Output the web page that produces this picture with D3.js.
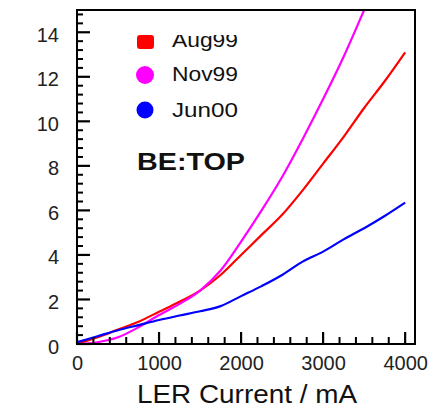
<!DOCTYPE html>
<html>
<head>
<meta charset="utf-8">
<script src="https://cdn.jsdelivr.net/npm/d3@7"></script>
<style>
  body { margin: 0; background: #fff; }
  svg { display: block; font-family: "Liberation Sans", Arial, sans-serif; }
  .axis text { fill: #222; font-size: 20px; }
</style>
</head>
<body>
<svg id="chart" width="430" height="407"></svg>
<script>
// LER current (mA) sample grid
const current = [0, 250, 500, 750, 1000, 1250, 1500, 1750, 2000, 2250, 2500, 2750, 3000, 3250, 3500, 3750, 4000];
const aug99 = [0, 0.3, 0.65, 1.0, 1.45, 1.9, 2.4, 3.1, 4.0, 4.9, 5.8, 6.9, 8.1, 9.3, 10.6, 11.8, 13.1];
const nov99 = [0, 0.08, 0.3, 0.75, 1.3, 1.8, 2.4, 3.3, 4.6, 6.0, 7.5, 9.2, 11.0, 12.9, 15.0];
const jun00 = [0.08, 0.35, 0.62, 0.85, 1.08, 1.28, 1.47, 1.7, 2.15, 2.6, 3.1, 3.7, 4.15, 4.7, 5.2, 5.75, 6.35];

const seriesNames = ['Aug99', 'Nov99', 'Jun00'];
const seriesColors = ['#ff0000', '#ff00ff', '#0000ff'];
const xTicks = [0, 1000, 2000, 3000, 4000];
const yTicks = [0, 2, 4, 6, 8, 10, 12, 14];

const svg = d3.select('#chart');
const L = 77, R = 415, T = 10, B = 344;

const x = d3.scaleLinear().domain([0, 4120]).range([L, R]);
const y = d3.scaleLinear().domain([0, 15]).range([B, T]);

svg.append('defs').append('clipPath').attr('id', 'plot')
  .append('rect').attr('x', L).attr('y', T).attr('width', R - L).attr('height', B - T);

// curves
const series = [aug99, nov99, jun00];
const line = d3.line()
  .x((d, i) => x(current[i]))
  .y(d => y(d))
  .curve(d3.curveMonotoneX);

const gl = svg.append('g').attr('clip-path', 'url(#plot)');
series.forEach((s, k) => {
  gl.append('path')
    .datum(s)
    .attr('d', line)
    .attr('fill', 'none')
    .attr('stroke', seriesColors[k])
    .attr('stroke-width', 2.2)
    .attr('stroke-linejoin', 'round');
});

// tick labels via axes
svg.append('g').attr('class', 'axis').attr('transform', `translate(${L},0)`)
  .call(d3.axisLeft(y).tickValues(yTicks).tickSize(0).tickPadding(18))
  .call(g => g.select('.domain').remove())
  .selectAll('text').attr('dy', '0.45em');
svg.append('g').attr('class', 'axis').attr('transform', `translate(0,${B})`)
  .call(d3.axisBottom(x).tickValues(xTicks).tickSize(0).tickPadding(12).tickFormat(d3.format('d')))
  .call(g => g.select('.domain').remove());

// tick marks pointing inward
const yMinor = d3.range(0, 15, 0.4).filter(v => Math.abs(v / 2 - Math.round(v / 2)) > 0.01);
const xMinor = d3.range(200, 4100, 200).filter(v => v % 1000 !== 0);

svg.selectAll('.ym').data(yMinor).join('line').attr('class', 'ym')
  .attr('x1', L).attr('x2', L + 6).attr('y1', d => y(d)).attr('y2', d => y(d))
  .attr('stroke', '#000').attr('stroke-width', 2);
svg.selectAll('.yM').data(yTicks).join('line').attr('class', 'yM')
  .attr('x1', L).attr('x2', L + 13).attr('y1', d => y(d)).attr('y2', d => y(d))
  .attr('stroke', '#000').attr('stroke-width', 2.2);
svg.selectAll('.xm').data(xMinor).join('line').attr('class', 'xm')
  .attr('x1', d => x(d)).attr('x2', d => x(d)).attr('y1', B).attr('y2', B - 7)
  .attr('stroke', '#000').attr('stroke-width', 2);
svg.selectAll('.xM').data(xTicks).join('line').attr('class', 'xM')
  .attr('x1', d => x(d)).attr('x2', d => x(d)).attr('y1', B).attr('y2', B - 12)
  .attr('stroke', '#000').attr('stroke-width', 2.2);

// frame
svg.append('rect')
  .attr('x', L).attr('y', T).attr('width', R - L).attr('height', B - T)
  .attr('fill', 'none').attr('stroke', '#000').attr('stroke-width', 2);

// axis title
svg.append('text')
  .attr('x', 137).attr('y', 403)
  .attr('font-size', 25)
  .attr('fill', '#111')
  .attr('textLength', 220).attr('lengthAdjust', 'spacingAndGlyphs')
  .text('LER Current / mA');

// legend
const legY = [42, 75, 110];
const leg = svg.append('g');
leg.append('rect').attr('x', 137).attr('y', 35).attr('width', 17).attr('height', 14)
  .attr('rx', 3).attr('fill', seriesColors[0]);
leg.append('circle').attr('cx', 145).attr('cy', legY[1]).attr('r', 9).attr('fill', seriesColors[1]);
leg.append('circle').attr('cx', 145).attr('cy', legY[2]).attr('r', 8.5).attr('fill', seriesColors[2]);

svg.append('defs').append('clipPath').attr('id', 'augclip')
  .append('rect').attr('x', 160).attr('y', 35).attr('width', 100).attr('height', 20);

const textBase = [47, 81, 117];
seriesNames.forEach((name, k) => {
  const t = leg.append('text')
    .attr('x', 172).attr('y', textBase[k])
    .attr('font-size', 21)
    .attr('fill', '#111')
    .attr('textLength', 66).attr('lengthAdjust', 'spacingAndGlyphs')
    .text(name);
  if (k === 0) t.attr('clip-path', 'url(#augclip)');
});

svg.append('text')
  .attr('x', 137).attr('y', 170)
  .attr('font-size', 24).attr('font-weight', 'bold')
  .attr('fill', '#111')
  .attr('textLength', 108).attr('lengthAdjust', 'spacingAndGlyphs')
  .text('BE:TOP');
</script>
</body>
</html>
